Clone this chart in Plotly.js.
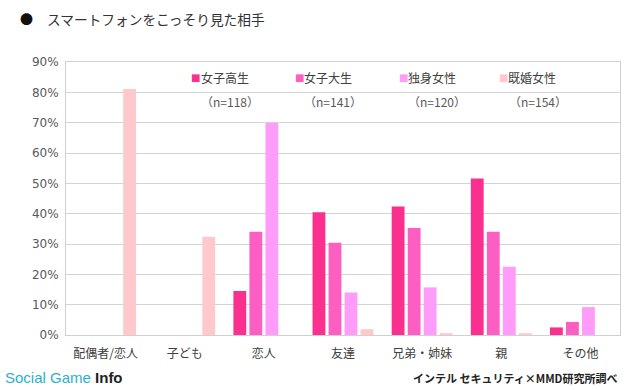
<!DOCTYPE html>
<html>
<head>
<meta charset="utf-8">
<script src="https://cdn.plot.ly/plotly-3.0.1.min.js"></script>
<style>html,body{margin:0;padding:0;background:#fff;}#chart{width:640px;height:390px;}</style>
</head>
<body>
<div id="chart"></div>
<script>
const categories = ["配偶者/恋人", "子ども", "恋人", "友達", "兄弟・姉妹", "親", "その他"];
const seriesNames = ["女子高生", "女子大生", "独身女性", "既婚女性"];
const sampleSizes = ["（n=118）", "（n=141）", "（n=120）", "（n=154）"];
const highSchool = [null, null, 14.5, 40.5, 42.4, 51.6, 2.5];
const college = [null, null, 34.0, 30.4, 35.3, 34.0, 4.3];
const single = [null, null, 69.9, 14.0, 15.7, 22.5, 9.2];
const married = [81.1, 32.4, null, 1.9, 0.6, 0.6, null];
const yTicks = [0, 10, 20, 30, 40, 50, 60, 70, 80, 90];
const yTickText = ["0%", "10%", "20%", "30%", "40%", "50%", "60%", "70%", "80%", "90%"];

const colors = ["#FA2F8E", "#FC5EC2", "#FF9BF8", "#FFC9CC"];
const values = [highSchool, college, single, married];
const font = "'Noto Sans CJK JP', 'Noto Sans', sans-serif";

const traces = values.map((v, i) => ({
  type: "bar",
  name: seriesNames[i],
  x: categories,
  y: v,
  marker: {color: colors[i]},
  showlegend: false
}));

const L = 66, R = 620, T = 62, B = 335;
const px = p => (p - L) / (R - L);
const py = p => (B - p) / (B - T);

const annotations = [
  {text: "●", xref: "paper", yref: "paper",
   x: px(18), y: py(19), xanchor: "left", yanchor: "middle", showarrow: false,
   font: {family: font, size: 13, color: "#111111"}},
  {text: "スマートフォンをこっそり見た相手", xref: "paper", yref: "paper",
   x: px(45), y: py(19), xanchor: "left", yanchor: "middle", showarrow: false,
   font: {family: font, size: 13.7, color: "#333333"}},
  {text: "<span style='color:#2BB0CF'>Social Game </span><b>Info</b>", xref: "paper", yref: "paper",
   x: px(3), y: py(377), xanchor: "left", yanchor: "middle", showarrow: false,
   font: {family: "'Liberation Sans', Arial, sans-serif", size: 15, color: "#222222"}},
  {text: "<b>インテル セキュリティ×MMD研究所調べ</b>", xref: "paper", yref: "paper",
   x: px(619), y: py(378), xanchor: "right", yanchor: "middle", showarrow: false,
   font: {family: font, size: 11, color: "#222222"}}
];
const markerX = [189, 293, 397, 497];
const textX = [199, 302, 406, 506];
const nCenters = [230, 333, 437, 538];
seriesNames.forEach((name, i) => {
  annotations.push({
    text: "■", xref: "paper", yref: "paper", x: px(markerX[i]), y: py(77),
    xanchor: "left", yanchor: "middle", showarrow: false,
    font: {family: "'DejaVu Sans', sans-serif", size: 10, color: colors[i]}
  });
  annotations.push({
    text: name, xref: "paper", yref: "paper", x: px(textX[i]), y: py(77),
    xanchor: "left", yanchor: "middle", showarrow: false,
    font: {family: font, size: 12, color: "#404040"}
  });
  annotations.push({
    text: sampleSizes[i], xref: "paper", yref: "paper", x: px(nCenters[i]), y: py(101),
    xanchor: "center", yanchor: "middle", showarrow: false,
    font: {family: font, size: 12, color: "#595959"}
  });
});

const layout = {
  width: 640, height: 390,
  margin: {l: L, r: 640 - R, t: T, b: 390 - B},
  paper_bgcolor: "#ffffff", plot_bgcolor: "#ffffff",
  barmode: "group", bargap: 0.19, bargroupgap: 0.2,
  showlegend: false,
  xaxis: {
    type: "category", showgrid: false, showline: true, linecolor: "#d0d0d0", linewidth: 1, mirror: true,
    ticks: "", tickfont: {family: font, size: 12, color: "#404040"}, ticklabelstandoff: 8, fixedrange: true
  },
  yaxis: {
    range: [0, 90], tickvals: yTicks, ticktext: yTickText, showgrid: true, gridcolor: "#d4d4d4",
    showline: true, linecolor: "#d0d0d0", mirror: true, zeroline: false, ticks: "",
    tickfont: {family: "'DejaVu Sans', sans-serif", size: 12, color: "#595959"}, ticklabelstandoff: 4
  },
  annotations: annotations,
  font: {family: font}
};

Plotly.newPlot("chart", traces, layout, {displayModeBar: false, staticPlot: true});
</script>
</body>
</html>
